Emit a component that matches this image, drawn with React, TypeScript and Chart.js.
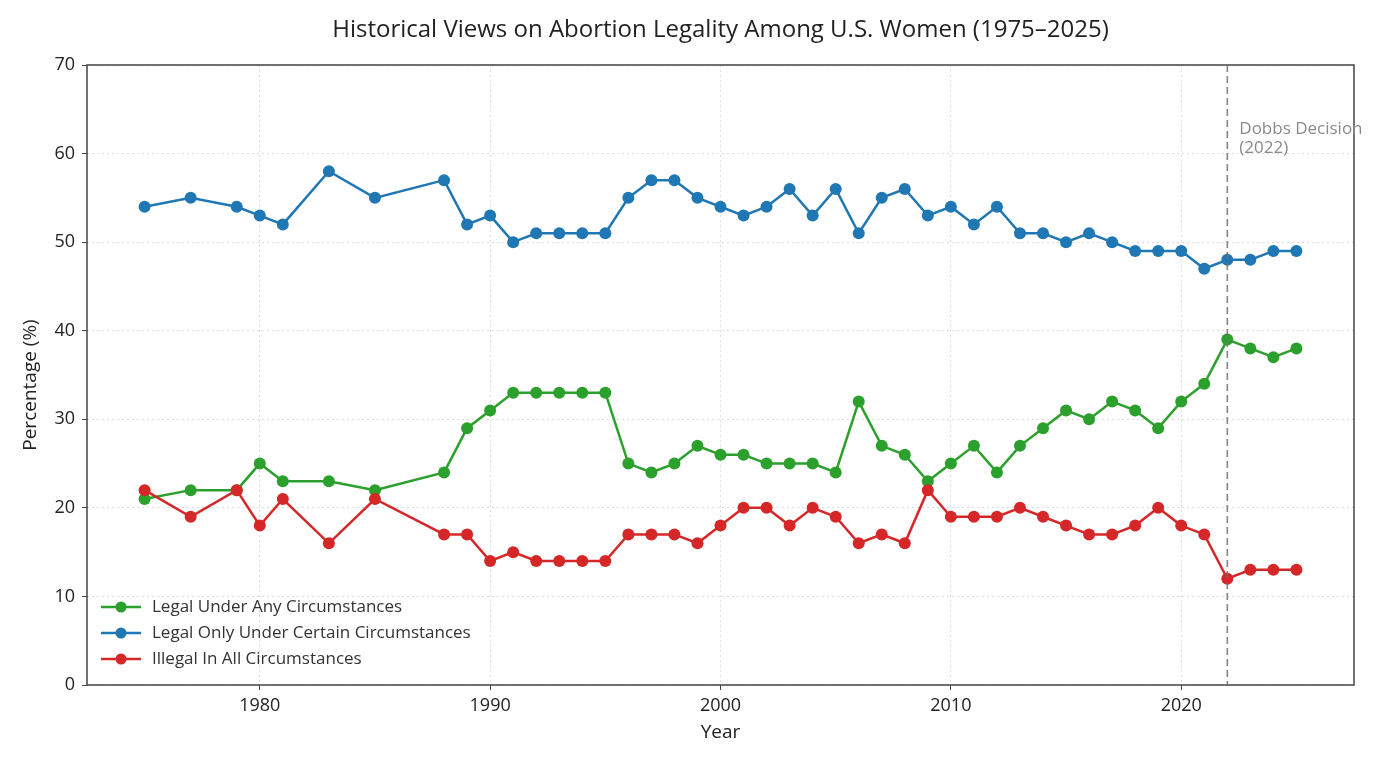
import React, { useEffect, useRef } from "react";
import { Chart, registerables } from "chart.js";

Chart.register(...registerables);

const years = [1975, 1977, 1979, 1980, 1981, 1983, 1985, 1988, 1989, 1990, 1991, 1992, 1993, 1994, 1995, 1996, 1997, 1998, 1999, 2000, 2001, 2002, 2003, 2004, 2005, 2006, 2007, 2008, 2009, 2010, 2011, 2012, 2013, 2014, 2015, 2016, 2017, 2018, 2019, 2020, 2021, 2022, 2023, 2024, 2025];
const legalAny = [21, 22, 22, 25, 23, 23, 22, 24, 29, 31, 33, 33, 33, 33, 33, 25, 24, 25, 27, 26, 26, 25, 25, 25, 24, 32, 27, 26, 23, 25, 27, 24, 27, 29, 31, 30, 32, 31, 29, 32, 34, 39, 38, 37, 38];
const legalCertain = [54, 55, 54, 53, 52, 58, 55, 57, 52, 53, 50, 51, 51, 51, 51, 55, 57, 57, 55, 54, 53, 54, 56, 53, 56, 51, 55, 56, 53, 54, 52, 54, 51, 51, 50, 51, 50, 49, 49, 49, 47, 48, 48, 49, 49];
const illegalAll = [22, 19, 22, 18, 21, 16, 21, 17, 17, 14, 15, 14, 14, 14, 14, 17, 17, 17, 16, 18, 20, 20, 18, 20, 19, 16, 17, 16, 22, 19, 19, 19, 20, 19, 18, 17, 17, 18, 20, 18, 17, 12, 13, 13, 13];

const seriesNames = ["Legal Under Any Circumstances", "Legal Only Under Certain Circumstances", "Illegal In All Circumstances"];
const seriesColors = ["#2ca02c", "#1f77b4", "#d62728"];
const xTickValues = [1980, 1990, 2000, 2010, 2020];
const yTickValues = [0, 10, 20, 30, 40, 50, 60, 70];
const dobbsYear = 2022;
const dobbsLabel = ["Dobbs Decision", "(2022)"];
const titleText = "Historical Views on Abortion Legality Among U.S. Women (1975\u20132025)";
const FONT = "'Open Sans', sans-serif";

const decorPlugin = {
  id: "decor",
  beforeDatasetsDraw(chart: any) {
    const { ctx, chartArea } = chart;
    ctx.save();
    ctx.strokeStyle = "#444";
    ctx.lineWidth = 1.5;
    ctx.strokeRect(chartArea.left, chartArea.top, chartArea.right - chartArea.left, chartArea.bottom - chartArea.top);
    ctx.restore();
  },
  afterDatasetsDraw(chart: any) {
    const { ctx, chartArea, scales } = chart;
    const x = scales.x.getPixelForValue(dobbsYear);
    ctx.save();
    ctx.strokeStyle = "rgba(110,110,110,0.85)";
    ctx.lineWidth = 1.6;
    ctx.setLineDash([7, 4]);
    ctx.beginPath();
    ctx.moveTo(x, chartArea.top);
    ctx.lineTo(x, chartArea.bottom);
    ctx.stroke();
    ctx.setLineDash([]);
    ctx.fillStyle = "#8a8a8a";
    ctx.font = `17px ${FONT}`;
    ctx.textAlign = "left";
    ctx.textBaseline = "middle";
    ctx.fillText(dobbsLabel[0], x + 12, 129);
    ctx.fillText(dobbsLabel[1], x + 12, 148);

    // title
    ctx.fillStyle = "#222";
    ctx.font = `24px ${FONT}`;
    ctx.textAlign = "center";
    ctx.fillText(titleText, (chartArea.left + chartArea.right) / 2, 30);

    // axis titles
    ctx.fillStyle = "#222";
    ctx.font = `19px ${FONT}`;
    ctx.fillText("Year", (chartArea.left + chartArea.right) / 2, 733);
    ctx.save();
    ctx.translate(31, 385);
    ctx.rotate(-Math.PI / 2);
    ctx.fillText("Percentage (%)", 0, 0);
    ctx.restore();

    // legend
    const lx = chartArea.left + 14;
    let ly = 607;
    ctx.font = `17px ${FONT}`;
    ctx.textAlign = "left";
    for (let i = 0; i < seriesNames.length; i++) {
      ctx.strokeStyle = seriesColors[i];
      ctx.lineWidth = 2.5;
      ctx.beginPath();
      ctx.moveTo(lx, ly);
      ctx.lineTo(lx + 40, ly);
      ctx.stroke();
      ctx.fillStyle = seriesColors[i];
      ctx.beginPath();
      ctx.arc(lx + 20, ly, 5.5, 0, Math.PI * 2);
      ctx.fill();
      ctx.fillStyle = "#333";
      ctx.fillText(seriesNames[i], lx + 51, ly);
      ly += 26;
    }
    ctx.restore();
  },
};

export default function App() {
  const ref = useRef<HTMLCanvasElement>(null);
  useEffect(() => {
    document.body.style.margin = "0";
    const seriesData = [legalAny, legalCertain, illegalAll];
    const chart = new Chart(ref.current!, {
      type: "line",
      data: {
        datasets: seriesData.map((vals, i) => ({
          label: seriesNames[i],
          data: years.map((y, j) => ({ x: y, y: vals[j] })),
          borderColor: seriesColors[i],
          backgroundColor: seriesColors[i],
          pointBackgroundColor: seriesColors[i],
          pointBorderColor: seriesColors[i],
          borderWidth: 2.5,
          pointRadius: 6,
          pointBorderWidth: 0,
          tension: 0,
          order: 2 - i,
        })),
      },
      options: {
        animation: false,
        responsive: false,
        layout: { padding: { left: 0, top: 65, right: 46, bottom: 0 } },
        plugins: { legend: { display: false }, title: { display: false }, tooltip: { enabled: false } },
        scales: {
          x: {
            type: "linear",
            min: 1972.5,
            max: 2027.5,
            afterBuildTicks: (scale: any) => {
              scale.ticks = xTickValues.map((v) => ({ value: v }));
            },
            afterFit: (scale: any) => {
              scale.height = 79;
            },
            ticks: { color: "#222", font: { family: FONT, size: 18 }, padding: 5, maxRotation: 0, callback: (v: any) => String(v) },
            grid: { color: "#dcdcdc", lineWidth: 1, tickLength: 5, tickColor: "#444", tickWidth: 1, tickBorderDash: [] } as any,
            border: { display: false, dash: [2, 3] },
          },
          y: {
            type: "linear",
            min: 0,
            max: 70,
            afterBuildTicks: (scale: any) => {
              scale.ticks = yTickValues.map((v) => ({ value: v }));
            },
            afterFit: (scale: any) => {
              scale.width = 87;
            },
            ticks: { color: "#222", font: { family: FONT, size: 18 }, padding: 7, callback: (v: any) => String(v) },
            grid: { color: "#dcdcdc", lineWidth: 1, tickLength: 5, tickColor: "#444", tickWidth: 1, tickBorderDash: [] } as any,
            border: { display: false, dash: [2, 3] },
          },
        },
      } as any,
      plugins: [decorPlugin],
    });
    return () => chart.destroy();
  }, []);
  return (
    <div style={{ width: 1400, height: 764, background: "#fff" }}>
      <canvas ref={ref} width={1400} height={764} style={{ display: "block" }} />
    </div>
  );
}
